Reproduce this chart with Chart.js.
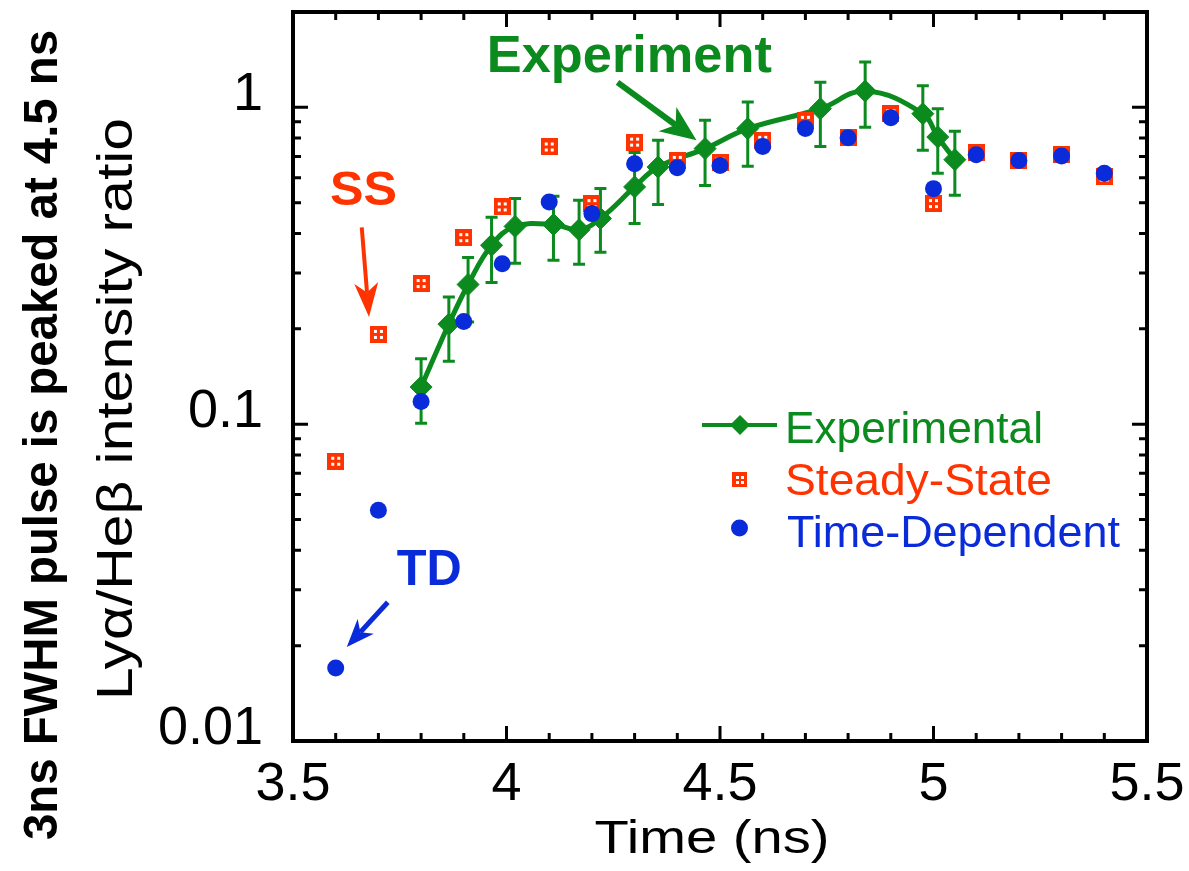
<!DOCTYPE html>
<html><head><meta charset="utf-8">
<script src="https://cdn.jsdelivr.net/npm/chart.js@4.4.1/dist/chart.umd.min.js"></script>
<style>html,body{margin:0;padding:0;background:#fff}canvas{display:block}</style>
</head><body>
<canvas id="c" width="1189" height="871"></canvas>
<script>
// ---- data ----
const expTime  = [3.8, 3.865, 3.91, 3.965, 4.02, 4.11, 4.17, 4.22, 4.3, 4.355, 4.465, 4.565, 4.735, 4.84, 4.975, 5.01, 5.05];
const expRatio = [0.131, 0.207, 0.276, 0.367, 0.421, 0.427, 0.411, 0.446, 0.561, 0.648, 0.741, 0.857, 0.99, 1.126, 0.955, 0.806, 0.684];
const expHigh  = [0.161, 0.252, 0.336, 0.45, 0.516, 0.524, 0.509, 0.555, 0.72, 0.787, 0.91, 1.04, 1.2, 1.39, 1.17, 0.99, 0.84];
const expLow   = [0.1007, 0.158, 0.21, 0.28, 0.322, 0.329, 0.32, 0.349, 0.43, 0.494, 0.567, 0.652, 0.753, 0.865, 0.732, 0.619, 0.528];

const ssTime  = [3.6, 3.7, 3.8, 3.9, 3.99, 4.1, 4.2, 4.3, 4.4, 4.5, 4.6, 4.7, 4.8, 4.9, 5.0, 5.1, 5.2, 5.3, 5.4];
const ssRatio = [0.0764, 0.192, 0.278, 0.388, 0.485, 0.75, 0.497, 0.777, 0.68, 0.672, 0.787, 0.91, 0.806, 0.955, 0.497, 0.718, 0.68, 0.709, 0.603];

const tdTime  = [3.6, 3.7, 3.8, 3.9, 3.99, 4.1, 4.2, 4.3, 4.4, 4.5, 4.6, 4.7, 4.8, 4.9, 5.0, 5.1, 5.2, 5.3, 5.4];
const tdRatio = [0.017, 0.0535, 0.118, 0.211, 0.321, 0.503, 0.462, 0.664, 0.645, 0.655, 0.753, 0.857, 0.802, 0.928, 0.554, 0.709, 0.68, 0.702, 0.62];

const xMajorTicks = [3.5, 4, 4.5, 5, 5.5];
const xTickLabels = ['3.5', '4', '4.5', '5', '5.5'];
const xMinorTicks = [3.6, 3.7, 3.8, 3.9, 4.1, 4.2, 4.3, 4.4, 4.6, 4.7, 4.8, 4.9, 5.1, 5.2, 5.3, 5.4];
const yMajorTicks = [0.01, 0.1, 1];
const yTickLabels = ['0.01', '0.1', '1'];
const yMinorTicks = [0.02, 0.03, 0.04, 0.05, 0.06, 0.07, 0.08, 0.09, 0.2, 0.3, 0.4, 0.5, 0.6, 0.7, 0.8, 0.9];

const seriesNames = ['Experimental', 'Steady-State', 'Time-Dependent'];
const xTitle = 'Time (ns)';
const yTitle = 'Ly\u03b1/He\u03b2 intensity ratio';
const yTitleOuter = '3ns FWHM pulse is peaked at 4.5 ns';

// annotations: [text, textX, textBaselineY, arrowFromX, arrowFromY, arrowToX, arrowToY] in data units
const annSS  = ['SS', 3.665, 0.491, 3.661, 0.418, 3.678, 0.218];
const annTD  = ['TD', 3.819, 0.0310, 3.722, 0.0274, 3.626, 0.0198];
const annExp = ['Experiment', 4.2877, 1.289, 4.260, 1.199, 4.445, 0.787];

// ---- styles ----
const GREEN = '#0b8a1e', RED = '#ff3300', BLUE = '#0a2bd9';
const FONT = '"Liberation Sans", Arial, sans-serif';

function ssMarker(size) {
  const c = document.createElement('canvas');
  c.width = size; c.height = size;
  const g = c.getContext('2d');
  g.fillStyle = RED; g.fillRect(0, 0, size, size);
  g.fillStyle = '#fff';
  const d = Math.max(2, Math.round(size * 0.18));
  const a = Math.round(size * 0.25), b = Math.round(size * 0.58);
  [[a, a], [b, a], [a, b], [b, b]].forEach(([x, y]) => g.fillRect(x, y, d, d));
  return c;
}

function fitText(ctx, text, x, y, font, width, color, rot) {
  ctx.save();
  ctx.font = font; ctx.fillStyle = color;
  ctx.textAlign = 'center'; ctx.textBaseline = 'alphabetic';
  const m = ctx.measureText(text).width;
  ctx.translate(x, y);
  if (rot) ctx.rotate(rot);
  ctx.scale(width / m, 1);
  ctx.fillText(text, 0, 0);
  ctx.restore();
}

function arrow(ctx, x1, y1, x2, y2, color, lw, headLen, headW) {
  const ang = Math.atan2(y2 - y1, x2 - x1);
  const ux = Math.cos(ang), uy = Math.sin(ang);
  const bx = x2 - ux * headLen, by = y2 - uy * headLen;
  const nx = x2 - ux * headLen * 0.72, ny = y2 - uy * headLen * 0.72;
  ctx.save();
  ctx.strokeStyle = color; ctx.fillStyle = color; ctx.lineWidth = lw;
  ctx.beginPath(); ctx.moveTo(x1, y1); ctx.lineTo(nx, ny); ctx.stroke();
  ctx.beginPath();
  ctx.moveTo(x2, y2);
  ctx.lineTo(bx - uy * headW / 2, by + ux * headW / 2);
  ctx.lineTo(nx, ny);
  ctx.lineTo(bx + uy * headW / 2, by - ux * headW / 2);
  ctx.closePath(); ctx.fill();
  ctx.restore();
}

const deco = {
  id: 'deco',
  beforeDatasetsDraw(chart) {
    const {ctx, scales: {x, y}} = chart;
    ctx.save();
    ctx.strokeStyle = GREEN; ctx.lineWidth = 3;
    expTime.forEach((t, i) => {
      const px = x.getPixelForValue(t);
      const top = y.getPixelForValue(expHigh[i]);
      const bot = y.getPixelForValue(expLow[i]);
      ctx.beginPath();
      ctx.moveTo(px, top); ctx.lineTo(px, bot);
      ctx.moveTo(px - 6, top); ctx.lineTo(px + 6, top);
      ctx.moveTo(px - 6, bot); ctx.lineTo(px + 6, bot);
      ctx.stroke();
    });
    ctx.restore();
  },
  afterDraw(chart) {
    const {ctx, chartArea: a, scales: {x, y}} = chart;
    ctx.save();
    // frame
    ctx.strokeStyle = '#000'; ctx.lineWidth = 4;
    ctx.strokeRect(a.left, a.top, a.right - a.left, a.bottom - a.top);
    // ticks
    ctx.lineWidth = 3;
    const MAJ = 15, MIN = 8;
    ctx.beginPath();
    xMajorTicks.forEach(v => { const p = x.getPixelForValue(v);
      ctx.moveTo(p, a.bottom); ctx.lineTo(p, a.bottom - MAJ); ctx.moveTo(p, a.top); ctx.lineTo(p, a.top + MAJ); });
    xMinorTicks.forEach(v => { const p = x.getPixelForValue(v);
      ctx.moveTo(p, a.bottom); ctx.lineTo(p, a.bottom - MIN); ctx.moveTo(p, a.top); ctx.lineTo(p, a.top + MIN); });
    yMajorTicks.forEach(v => { const p = y.getPixelForValue(v);
      ctx.moveTo(a.left, p); ctx.lineTo(a.left + MAJ, p); ctx.moveTo(a.right, p); ctx.lineTo(a.right - MAJ, p); });
    yMinorTicks.forEach(v => { const p = y.getPixelForValue(v);
      ctx.moveTo(a.left, p); ctx.lineTo(a.left + MIN, p); ctx.moveTo(a.right, p); ctx.lineTo(a.right - MIN, p); });
    ctx.stroke();
    // tick labels
    ctx.fillStyle = '#000';
    ctx.font = '54px ' + FONT;
    ctx.textAlign = 'center'; ctx.textBaseline = 'alphabetic';
    xMajorTicks.forEach((v, i) => ctx.fillText(xTickLabels[i], x.getPixelForValue(v), a.bottom + 59));
    ctx.textAlign = 'right'; ctx.textBaseline = 'middle';
    yMajorTicks.forEach((v, i) => ctx.fillText(yTickLabels[i], a.left - 30, y.getPixelForValue(v) - 12));
    ctx.restore();

    // axis titles
    fitText(ctx, xTitle, (a.left + a.right) / 2 - 8, 853, '46px ' + FONT, 235, '#000');
    fitText(ctx, yTitle, 132, 409, '50px ' + FONT, 582, '#000', -Math.PI / 2);
    fitText(ctx, yTitleOuter, 57, 435, 'bold 48px ' + FONT, 810, '#000', -Math.PI / 2);

    // legend
    ctx.save();
    ctx.strokeStyle = GREEN; ctx.lineWidth = 4;
    ctx.beginPath(); ctx.moveTo(702, 425); ctx.lineTo(777, 425); ctx.stroke();
    ctx.fillStyle = GREEN;
    ctx.beginPath(); ctx.moveTo(740, 415); ctx.lineTo(750, 425); ctx.lineTo(740, 435); ctx.lineTo(730, 425); ctx.closePath(); ctx.fill();
    ctx.drawImage(ssMarker(15), 732, 472);
    ctx.fillStyle = BLUE;
    ctx.beginPath(); ctx.arc(739.5, 528, 8.5, 0, Math.PI * 2); ctx.fill();
    ctx.restore();
    const lf = '44px ' + FONT;
    fitText(ctx, seriesNames[0], 785 + 258 / 2, 443, lf, 258, GREEN);
    fitText(ctx, seriesNames[1], 785 + 267 / 2, 495, lf, 267, RED);
    fitText(ctx, seriesNames[2], 787 + 333 / 2, 547, lf, 333, BLUE);

    // annotations
    const ann = (d, color, font, width, lw, hl, hw) => {
      fitText(ctx, d[0], x.getPixelForValue(d[1]), y.getPixelForValue(d[2]), font, width, color);
      arrow(ctx, x.getPixelForValue(d[3]), y.getPixelForValue(d[4]), x.getPixelForValue(d[5]), y.getPixelForValue(d[6]), color, lw, hl, hw);
    };
    ann(annSS, RED, 'bold 48px ' + FONT, 67, 4, 34, 24);
    ann(annTD, BLUE, 'bold 50px ' + FONT, 65, 5, 28, 22);
    ann(annExp, GREEN, 'bold 52px ' + FONT, 285, 6, 36, 30);
  }
};

const toXY = (xs, ys) => xs.map((t, i) => ({x: t, y: ys[i]}));

new Chart(document.getElementById('c'), {
  type: 'scatter',
  data: {
    datasets: [
      {label: seriesNames[0], data: toXY(expTime, expRatio), showLine: true, tension: 0.4,
       borderColor: GREEN, borderWidth: 5, backgroundColor: GREEN,
       pointStyle: 'rectRot', pointRadius: 11, pointBackgroundColor: GREEN, pointBorderColor: GREEN, pointBorderWidth: 1,
       order: 3},
      {label: seriesNames[1], data: toXY(ssTime, ssRatio), pointStyle: ssMarker(17), order: 2},
      {label: seriesNames[2], data: toXY(tdTime, tdRatio), pointStyle: 'circle', pointRadius: 8.5,
       pointBackgroundColor: BLUE, pointBorderColor: BLUE, pointBorderWidth: 0, order: 1}
    ]
  },
  options: {
    responsive: false, animation: false, devicePixelRatio: 1,
    layout: {padding: {left: 0, top: 12, right: 42, bottom: 0}},
    plugins: {legend: {display: false}, tooltip: {enabled: false}},
    scales: {
      x: {type: 'linear', min: 3.5, max: 5.5, grid: {display: false}, border: {display: false},
          ticks: {display: false}, afterFit(s) { s.height = 130; }},
      y: {type: 'logarithmic', min: 0.01, max: 2, grid: {display: false}, border: {display: false},
          ticks: {display: false}, afterFit(s) { s.width = 293; }}
    }
  },
  plugins: [deco]
});
</script>
</body></html>
